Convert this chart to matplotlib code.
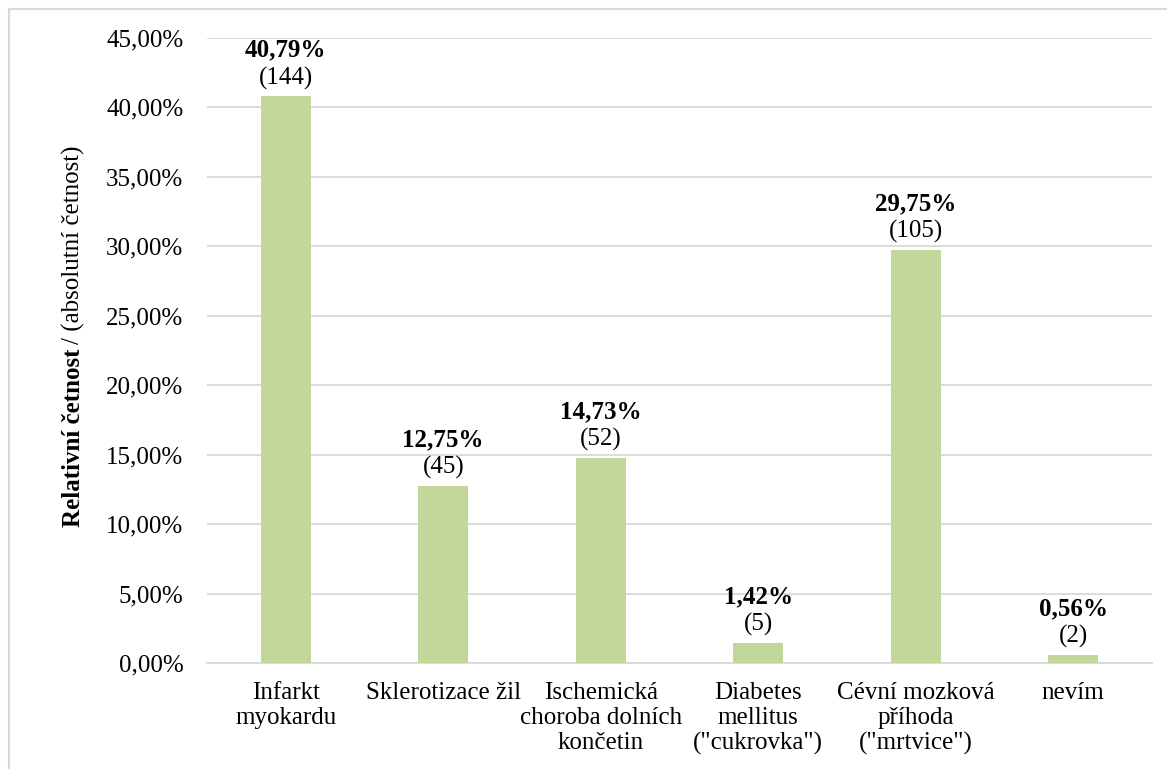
import matplotlib
matplotlib.use("Agg")
import matplotlib.pyplot as plt
import matplotlib.patches as mpatches
from matplotlib.ticker import FuncFormatter, MultipleLocator

categories = ["Infarkt\nmyokardu", "Sklerotizace žil", "Ischemická\nchoroba dolních\nkončetin",
              "Diabetes\nmellitus\n(\"cukrovka\")", "Cévní mozková\npříhoda\n(\"mrtvice\")", "nevím"]
percents = [40.79, 12.75, 14.73, 1.42, 29.75, 0.56]
counts = [144, 45, 52, 5, 105, 2]

plt.rcParams['font.family'] = ['Liberation Serif', 'DejaVu Serif']
fs = 18

fig = plt.figure(figsize=(11.67, 7.69), dpi=100)
ax = fig.add_axes([207 / 1167, 1 - 663 / 769, 945 / 1167, 625 / 769])

x = list(range(len(categories)))
ax.bar(x, percents, width=0.32, color='#C4D79B', zorder=3)

for xi, p, c in zip(x, percents, counts):
    ax.annotate("(%d)" % c, (xi, p), xytext=(0, 5), textcoords='offset points',
                ha='center', va='bottom', fontsize=fs)
    ax.annotate(("%.2f%%" % p).replace(".", ","), (xi, p), xytext=(0, 25),
                textcoords='offset points', ha='center', va='bottom',
                fontsize=fs, fontweight='bold')

ax.set_xlim(-0.5, len(categories) - 0.5)
ax.set_ylim(0, 45)
ax.yaxis.set_major_locator(MultipleLocator(5))
ax.yaxis.set_major_formatter(FuncFormatter(lambda v, _: ("%.2f%%" % v).replace(".", ",")))
ax.grid(axis='y', color='#D9D9D9', linewidth=1.3, zorder=0)
ax.set_xticks(x)
ax.set_xticklabels(categories, fontsize=fs, linespacing=1.17)
ax.tick_params(axis='y', length=0, pad=17, labelsize=fs)
ax.tick_params(axis='x', length=0, pad=14)
for s in ['top', 'right', 'left']:
    ax.spines[s].set_visible(False)
ax.spines['bottom'].set_color('#D9D9D9')
ax.spines['bottom'].set_linewidth(1.3)

# y label: bold first part, regular second part
W, H = 1167, 769
t1 = fig.text(73 / W, 1 - 527 / H, "Relativní četnost", rotation=90, ha='center',
              va='bottom', fontsize=fs, fontweight='bold')
fig.canvas.draw()
bb = t1.get_window_extent()
fig.text(73 / W, (bb.y1 + 4) / H, "/ (absolutní četnost)", rotation=90, ha='center',
         va='bottom', fontsize=fs)

# chart frame
fig.patches.append(mpatches.Rectangle((8.5 / W, -0.1), 1.2, 1 - 9 / H + 0.1,
                                      transform=fig.transFigure, fill=False,
                                      edgecolor='#D9D9D9', linewidth=1.5))

fig.savefig("out.png", dpi=100)
